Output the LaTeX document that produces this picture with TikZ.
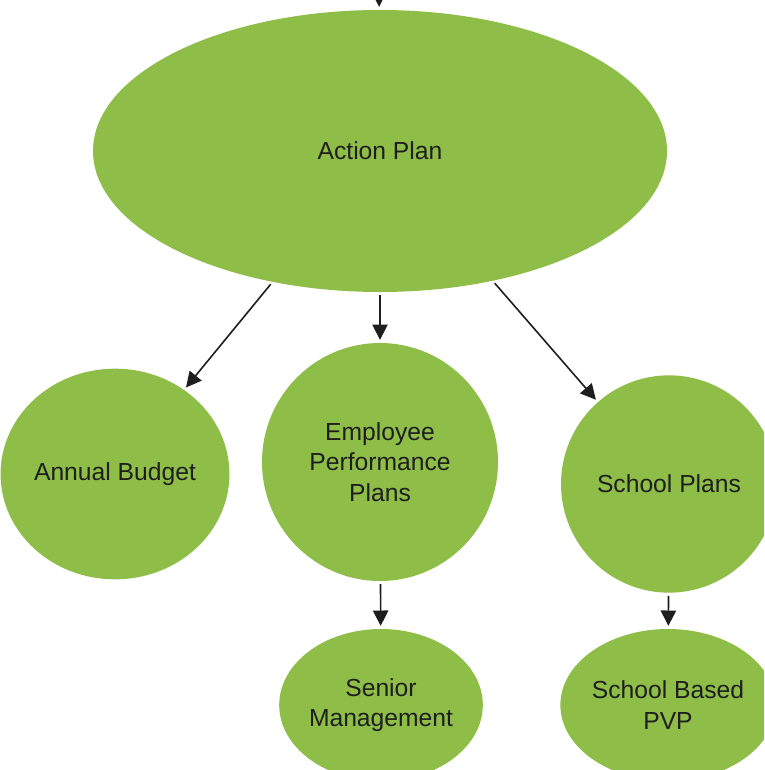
\documentclass[tikz,border=0pt]{standalone}
\usepackage{fontspec}
\setmainfont{Liberation Sans}
\usetikzlibrary{arrows.meta,shapes.geometric}

\definecolor{leafgreen}{RGB}{143,190,72}
\definecolor{ink}{RGB}{30,30,30}

\tikzset{every picture/.style={line width=0.75pt}}
\tikzset{
  blob/.style={ellipse, fill=leafgreen, draw=none, inner sep=0pt, align=center,
    text=ink, font=\fontsize{18.5}{23}\selectfont},
  flow/.style={draw=ink, line width=1.2pt, -{Triangle[width=11.5pt,length=11.5pt]}, shorten >=2pt, shorten <=2pt}
}

\begin{document}
\begin{tikzpicture}[x=0.75pt,y=0.75pt,yscale=-1,xscale=1]
%set diagram left start at 0, and has height of 770
\clip (0,0) rectangle (764,770);
\fill [white] (0,0) rectangle (764,770);

%Shape: Ellipse [id:action]
\node [blob, minimum width=430.5pt, minimum height=211.5pt] (action) at (380,151) {Action Plan};
%Shape: Circle [id:budget]
\node [blob, minimum width=157.5pt, minimum height=158pt] (budget) at (115,474) {Annual Budget};
%Shape: Circle [id:perform]
\node [blob, minimum width=177pt, minimum height=178.5pt] (perform) at (380,462) {Employee\\Performance\\Plans};
%Shape: Circle [id:school]
\node [blob, minimum width=162pt, minimum height=163pt] (school) at (669,484) {School Plans};
%Shape: Ellipse [id:senior]
\node [blob, minimum width=151.5pt, minimum height=114pt] (senior) at (381,705) {Senior\\Management};
%Shape: Ellipse [id:pvp]
\node [blob, minimum width=151.5pt, minimum height=114pt] (pvp) at (668,705) {School Based\\PVP};

% incoming from above the page
\coordinate (above) at (379,-16);

%Straight Lines
\draw [flow, shorten <=0pt] (above) -- (action);
\draw [flow] (action) -- (budget);
\draw [flow] (action) -- (perform);
\draw [flow] (action) -- (school);
\draw [flow] (perform) -- (senior);
\draw [flow] (school) -- (pvp);

\end{tikzpicture}
\end{document}
